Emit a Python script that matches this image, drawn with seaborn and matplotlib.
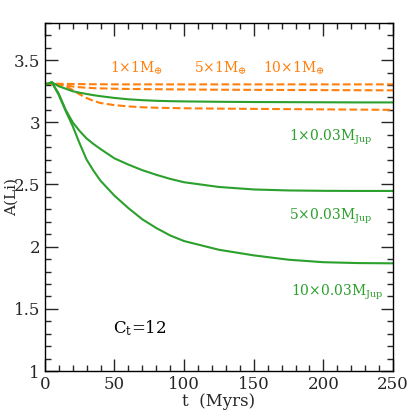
import numpy as np
import pandas as pd
import seaborn as sns
import matplotlib.pyplot as plt
from matplotlib.ticker import MultipleLocator

sns.set_style("ticks")
plt.rcParams['font.family'] = ['DejaVu Serif', 'DejaVu Sans']
plt.rcParams['mathtext.fontset'] = 'dejavuserif'

# Data
t = [0, 5, 10, 15, 20, 25, 30, 35, 40, 50, 60, 70, 80, 90, 100, 125, 150, 175, 200, 225, 250]

planet_1 = [3.30, 3.322, 3.29, 3.27, 3.25, 3.238, 3.228, 3.218, 3.21, 3.196, 3.185, 3.178, 3.173, 3.17, 3.168, 3.165, 3.163, 3.162, 3.161, 3.16, 3.16]
planet_5 = [3.30, 3.322, 3.23, 3.10, 3.00, 2.93, 2.87, 2.825, 2.785, 2.71, 2.66, 2.615, 2.578, 2.545, 2.518, 2.48, 2.46, 2.452, 2.449, 2.448, 2.448]
planet_10 = [3.30, 3.322, 3.22, 3.09, 2.97, 2.83, 2.70, 2.61, 2.53, 2.41, 2.31, 2.22, 2.15, 2.09, 2.045, 1.975, 1.93, 1.895, 1.875, 1.868, 1.866]

earth_1 = [3.31, 3.31, 3.31, 3.309, 3.308, 3.307, 3.307, 3.306, 3.306, 3.305, 3.305, 3.305, 3.305, 3.305, 3.305, 3.305, 3.305, 3.305, 3.305, 3.305, 3.305]
earth_5 = [3.31, 3.31, 3.305, 3.296, 3.288, 3.282, 3.278, 3.275, 3.273, 3.27, 3.268, 3.267, 3.266, 3.265, 3.264, 3.262, 3.261, 3.26, 3.259, 3.258, 3.257]
earth_10 = [3.31, 3.31, 3.305, 3.29, 3.26, 3.225, 3.195, 3.172, 3.155, 3.138, 3.128, 3.121, 3.117, 3.115, 3.113, 3.11, 3.108, 3.106, 3.104, 3.102, 3.10]

orange = "#ff7f0e"
green = "#2ca02c"

fig = plt.figure(figsize=(4.15, 4.15), dpi=100)
ax = fig.add_axes([0.108, 0.106, 0.839, 0.839])

for y in [earth_1, earth_5, earth_10]:
    sns.lineplot(x=t, y=y, ax=ax, color=orange, lw=1.5, dashes=(3.5, 2), linestyle='--')
for y in [planet_1, planet_5, planet_10]:
    sns.lineplot(x=t, y=y, ax=ax, color=green, lw=1.5)

ax.set_xlim(0, 250)
ax.set_ylim(1, 3.8)
ax.xaxis.set_major_locator(MultipleLocator(50))
ax.xaxis.set_minor_locator(MultipleLocator(10))
ax.yaxis.set_minor_locator(MultipleLocator(0.1))
ax.set_yticks([1, 1.5, 2, 2.5, 3, 3.5])
ax.set_yticklabels(['1', '1.5', '2', '2.5', '3', '3.5'])
ax.tick_params(which='both', direction='in', top=True, right=True, labelsize=12, width=1)
ax.tick_params(which='major', length=9)
ax.tick_params(which='minor', length=4.5)
for s in ax.spines.values():
    s.set_linewidth(1)
    s.set_color('black')

ax.set_xlabel("t  (Myrs)", fontsize=12, labelpad=0)
ax.set_ylabel("A(Li)", fontsize=11, labelpad=-4)

ax.text(66, 3.44, r"1$\times$1M$_{\oplus}$", color=orange, fontsize=10, ha='center', va='center')
ax.text(126, 3.44, r"5$\times$1M$_{\oplus}$", color=orange, fontsize=10, ha='center', va='center')
ax.text(179, 3.44, r"10$\times$1M$_{\oplus}$", color=orange, fontsize=10, ha='center', va='center')
ax.text(205, 2.88, r"1$\times$0.03M$_{\rm Jup}$", color=green, fontsize=10, ha='center', va='center')
ax.text(205, 2.24, r"5$\times$0.03M$_{\rm Jup}$", color=green, fontsize=10, ha='center', va='center')
ax.text(210, 1.635, r"10$\times$0.03M$_{\rm Jup}$", color=green, fontsize=10, ha='center', va='center')
ax.text(68, 1.345, r"C$_{\rm t}$=12", color='black', fontsize=12, ha='center', va='center')

fig.savefig("out.png", dpi=100)
